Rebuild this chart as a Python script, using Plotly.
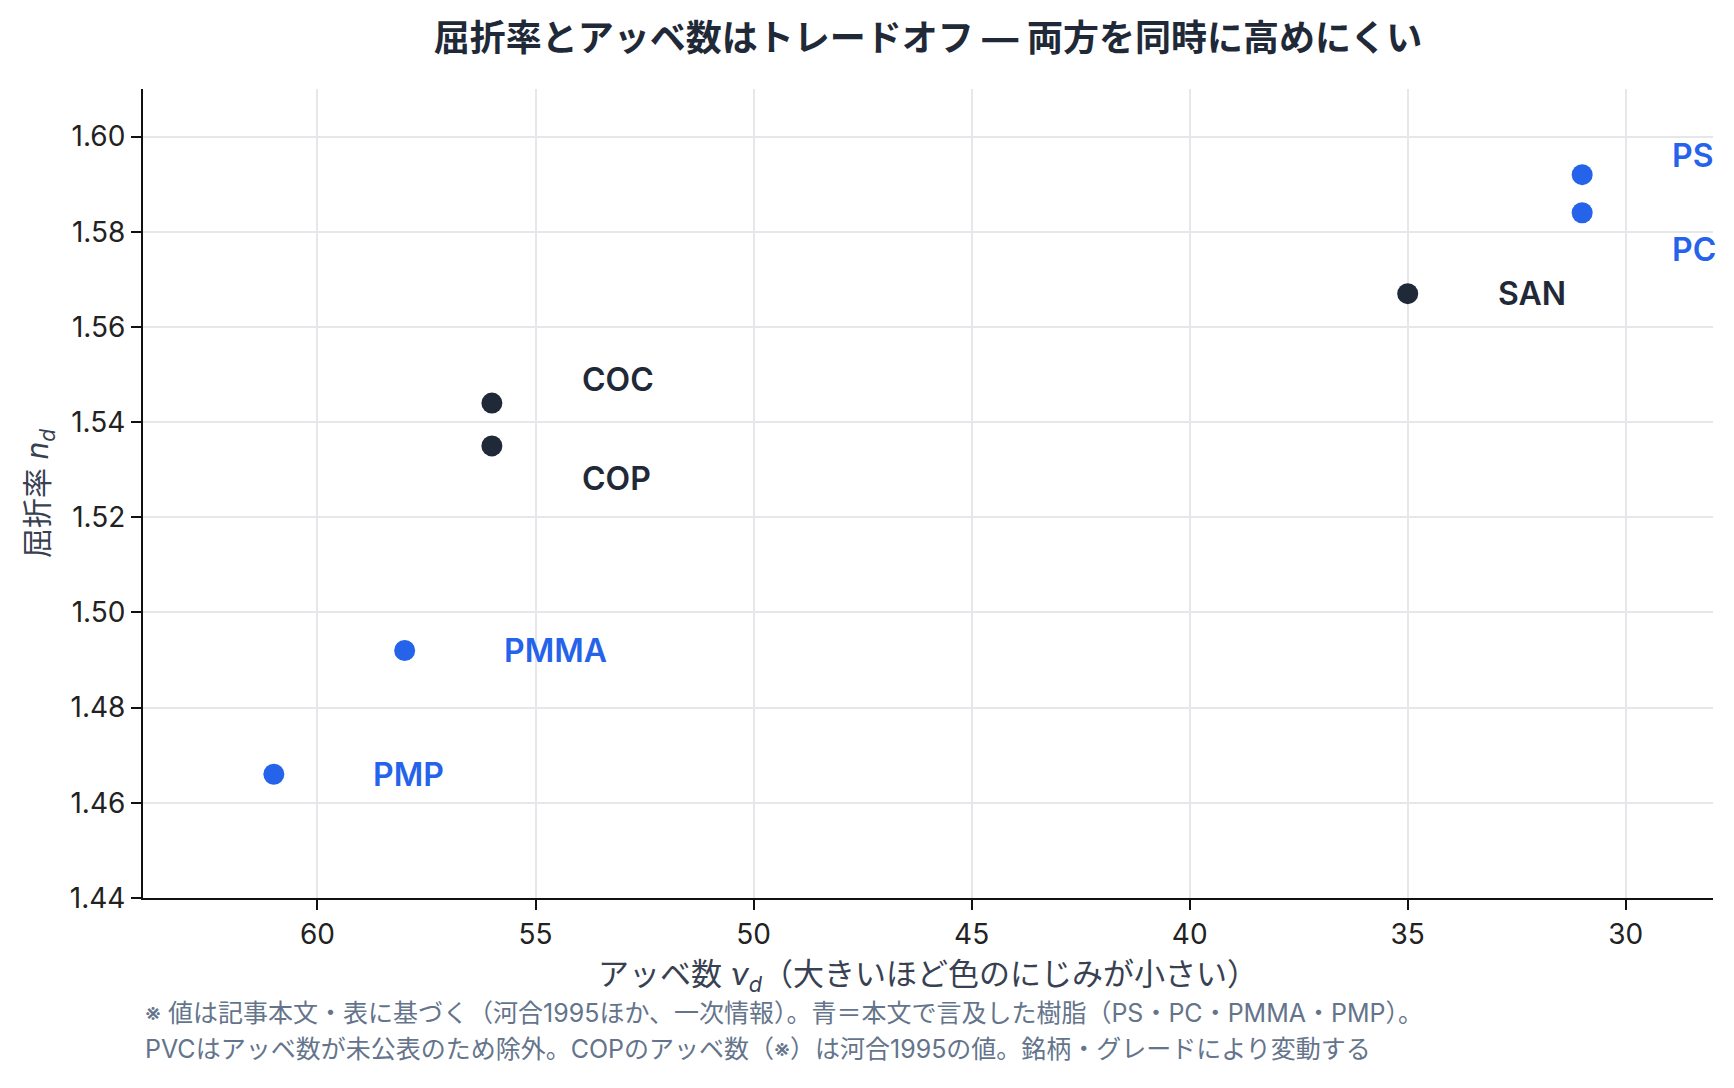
import plotly.graph_objects as go

# Materials and their optical constants
materials = ["PS", "PC", "SAN", "COC", "COP", "PMMA", "PMP"]
abbe_number = [31, 31, 35, 56, 56, 58, 61]
refractive_index = [1.592, 1.584, 1.567, 1.544, 1.535, 1.492, 1.466]
mentioned = [True, True, False, False, False, True, True]  # blue = cited in the article

x_ticks = [60, 55, 50, 45, 40, 35, 30]
y_ticks = [1.44, 1.46, 1.48, 1.50, 1.52, 1.54, 1.56, 1.58, 1.60]

title_text = "屈折率とアッベ数はトレードオフ — 両方を同時に高めにくい"
x_title = "アッベ数 <i>ν<sub>d</sub></i>（大きいほど色のにじみが小さい）"
y_title = "屈折率 <i>n<sub>d</sub></i>"
notes = [
    "※ 値は記事本文・表に基づく（河合1995ほか、一次情報）。青＝本文で言及した樹脂（PS・PC・PMMA・PMP）。",
    "PVCはアッベ数が未公表のため除外。COPのアッベ数（※）は河合1995の値。銘柄・グレードにより変動する",
]

BLUE = "#2563EB"
DARK = "#1F2937"
FONT = "Inter, 'Noto Sans CJK JP', sans-serif"

# label placement (pixels): horizontal and vertical shift from the marker
label_shift = {
    "PS": (88, 19), "PC": (88, -37), "SAN": (88, 0),
    "COC": (88, 24), "COP": (88, -33), "PMMA": (97, 0), "PMP": (97, 0),
}

fig = go.Figure()

for flag, color in [(False, DARK), (True, BLUE)]:
    xs = [a for a, m in zip(abbe_number, mentioned) if m == flag]
    ys = [n for n, m in zip(refractive_index, mentioned) if m == flag]
    fig.add_trace(go.Scatter(
        x=xs, y=ys, mode="markers",
        marker=dict(size=21, color=color, line=dict(width=0)),
        showlegend=False, hoverinfo="x+y",
    ))

annotations = []
for name, a, n, m in zip(materials, abbe_number, refractive_index, mentioned):
    dx, dy = label_shift[name]
    annotations.append(dict(
        x=a, y=n, xref="x", yref="y", text=name,
        showarrow=False, xanchor="left", yanchor="middle",
        xshift=dx, yshift=dy,
        font=dict(size=32, color=BLUE if m else DARK, family=FONT, weight=600),
    ))

note_y = [-0.1423, -0.1868]
for txt, yy in zip(notes, note_y):
    annotations.append(dict(
        x=0, y=yy, xref="paper", yref="paper", text=txt, showarrow=False,
        xanchor="left", yanchor="middle",
        font=dict(size=25, color="#64748B", family=FONT),
    ))

axis_common = dict(
    showgrid=True, gridcolor="#E5E7EB", gridwidth=2,
    showline=True, linecolor="#111111", linewidth=2,
    ticks="outside", ticklen=10, tickwidth=2, tickcolor="#111111",
    tickfont=dict(size=28, color="#222222", family=FONT),
    zeroline=False,
)

fig.update_layout(
    width=1734, height=1088,
    paper_bgcolor="white", plot_bgcolor="white",
    font=dict(family=FONT),
    title=dict(
        text="<b>" + title_text + "</b>", x=0.5, xref="paper", xanchor="center",
        y=1 - 38 / 1088, yanchor="middle",
        font=dict(size=36, color=DARK, family=FONT),
    ),
    margin=dict(l=143, r=21, t=89, b=190),
    xaxis=dict(
        range=[64, 28], tickvals=x_ticks,
        title=dict(text=x_title, font=dict(size=31, color="#374151", family=FONT), standoff=14),
        **axis_common,
    ),
    yaxis=dict(
        range=[1.44, 1.61], tickvals=y_ticks, tickformat=".2f",
        title=dict(text=y_title, font=dict(size=30, color="#374151", family=FONT), standoff=12),
        **axis_common,
    ),
    annotations=annotations,
)

fig.write_html("out.html", config={"displayModeBar": False},
               post_script="document.body.style.margin='0';")
